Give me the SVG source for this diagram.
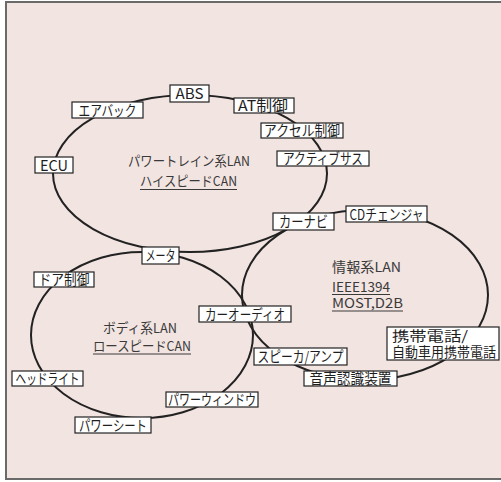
<svg xmlns="http://www.w3.org/2000/svg" width="501" height="482" viewBox="0 0 501 482">
<style>
.bx{fill:#fff;stroke:#222;stroke-width:1.2}
.t{font-family:"Noto Sans CJK JP","Noto Sans",sans-serif;font-size:14.5px;fill:#1e1e1e;text-anchor:middle}
.p{font-family:"Noto Sans CJK JP","Noto Sans",sans-serif;font-size:13.5px;fill:#1e1e1e}
.lb{font-family:"Noto Sans CJK JP","Noto Sans",sans-serif;font-size:13.5px;fill:#3a3a3a}
.ring{fill:none;stroke:#222;stroke-width:2}
.ul{stroke:#3a3a3a;stroke-width:1.2}
</style>
<rect x="0" y="0" width="501" height="482" fill="#fff"/>
<rect x="6" y="2" width="500" height="477" fill="#f2e4e1" stroke="#6a6a6a" stroke-width="2"/>
<g id="connectors">
<ellipse class="ring" cx="190" cy="173.5" rx="137" ry="78.5"/>
<ellipse class="ring" cx="142" cy="335" rx="111" ry="83"/>
<ellipse class="ring" cx="365" cy="295" rx="123" ry="85"/>
</g>
<g id="labels">
<text class="lb" x="128" y="166" textLength="122" lengthAdjust="spacingAndGlyphs">パワートレイン系LAN</text>
<text class="lb" x="140" y="186" textLength="97" lengthAdjust="spacingAndGlyphs">ハイスピードCAN</text>
<line class="ul" x1="140" y1="189.5" x2="237" y2="189.5"/>
<text class="lb" x="103" y="333" textLength="74" lengthAdjust="spacingAndGlyphs">ボディ系LAN</text>
<text class="lb" x="93" y="351" textLength="98" lengthAdjust="spacingAndGlyphs">ロースピードCAN</text>
<line class="ul" x1="93" y1="354" x2="191" y2="354"/>
<text class="lb" x="332" y="272" textLength="69" lengthAdjust="spacingAndGlyphs">情報系LAN</text>
<text class="lb" x="332" y="292" textLength="58" lengthAdjust="spacingAndGlyphs">IEEE1394</text>
<line class="ul" x1="332" y1="294.5" x2="390" y2="294.5"/>
<text class="lb" x="332" y="308" textLength="71" lengthAdjust="spacingAndGlyphs">MOST,D2B</text>
<line class="ul" x1="332" y1="311" x2="403" y2="311"/>
</g>
<g id="n-abs"><rect class="bx" x="170" y="85" width="39" height="17"/><text class="t" x="189.5" y="99" textLength="28" lengthAdjust="spacingAndGlyphs">ABS</text></g>
<g id="n-airbag"><rect class="bx" x="72" y="102" width="71" height="16"/><text class="t" x="107.5" y="115.5" textLength="58" lengthAdjust="spacingAndGlyphs">エアバック</text></g>
<g id="n-ecu"><rect class="bx" x="35" y="157" width="38" height="16"/><text class="t" x="54" y="170.5" textLength="28" lengthAdjust="spacingAndGlyphs">ECU</text></g>
<g id="n-at"><rect class="bx" x="234" y="98" width="60" height="15"/><text class="t" x="263" y="111" textLength="50" lengthAdjust="spacingAndGlyphs">AT制御</text></g>
<g id="n-accel"><rect class="bx" x="261" y="123" width="82" height="15"/><text class="t" x="302" y="136" textLength="76" lengthAdjust="spacingAndGlyphs">アクセル制御</text></g>
<g id="n-sus"><rect class="bx" x="277" y="151" width="92" height="15"/><text class="t" x="323" y="164" textLength="80" lengthAdjust="spacingAndGlyphs">アクティブサス</text></g>
<g id="n-navi"><rect class="bx" x="273" y="213" width="61" height="17"/><text class="t" x="303.5" y="227" textLength="49" lengthAdjust="spacingAndGlyphs">カーナビ</text></g>
<g id="n-cd"><rect class="bx" x="346" y="206" width="81" height="16"/><text class="t" x="386.5" y="219.5" textLength="74" lengthAdjust="spacingAndGlyphs">CDチェンジャ</text></g>
<g id="n-meter"><rect class="bx" x="142" y="247" width="37" height="17"/><text class="t" x="160.5" y="261" textLength="30" lengthAdjust="spacingAndGlyphs">メータ</text></g>
<g id="n-door"><rect class="bx" x="34" y="272" width="60" height="15"/><text class="t" x="64" y="285" textLength="51" lengthAdjust="spacingAndGlyphs">ドア制御</text></g>
<g id="n-audio"><rect class="bx" x="199" y="306" width="92" height="16"/><text class="t" x="245" y="319.5" textLength="80" lengthAdjust="spacingAndGlyphs">カーオーディオ</text></g>
<g id="n-head"><rect class="bx" x="12" y="371" width="71" height="15"/><text class="t" x="47.5" y="384" textLength="64" lengthAdjust="spacingAndGlyphs">ヘッドライト</text></g>
<g id="n-seat"><rect class="bx" x="75" y="417" width="76" height="16"/><text class="t" x="113" y="430.5" textLength="68" lengthAdjust="spacingAndGlyphs">パワーシート</text></g>
<g id="n-window"><rect class="bx" x="166" y="392" width="92" height="15"/><text class="t" x="212" y="405" textLength="88" lengthAdjust="spacingAndGlyphs">パワーウィンドウ</text></g>
<g id="n-speaker"><rect class="bx" x="254" y="348" width="93" height="17"/><text class="t" x="300.5" y="362" textLength="86" lengthAdjust="spacingAndGlyphs">スピーカ/アンプ</text></g>
<g id="n-voice"><rect class="bx" x="304" y="371" width="93" height="15"/><text class="t" x="350.5" y="384" textLength="82" lengthAdjust="spacingAndGlyphs">音声認識装置</text></g>
<g id="n-phone"><rect class="bx" x="387" y="327" width="112" height="33"/><text class="p" x="392" y="341" textLength="76" lengthAdjust="spacingAndGlyphs">携帯電話/</text><text class="p" x="392" y="356.5" textLength="104" lengthAdjust="spacingAndGlyphs">自動車用携帯電話</text></g>
</svg>
